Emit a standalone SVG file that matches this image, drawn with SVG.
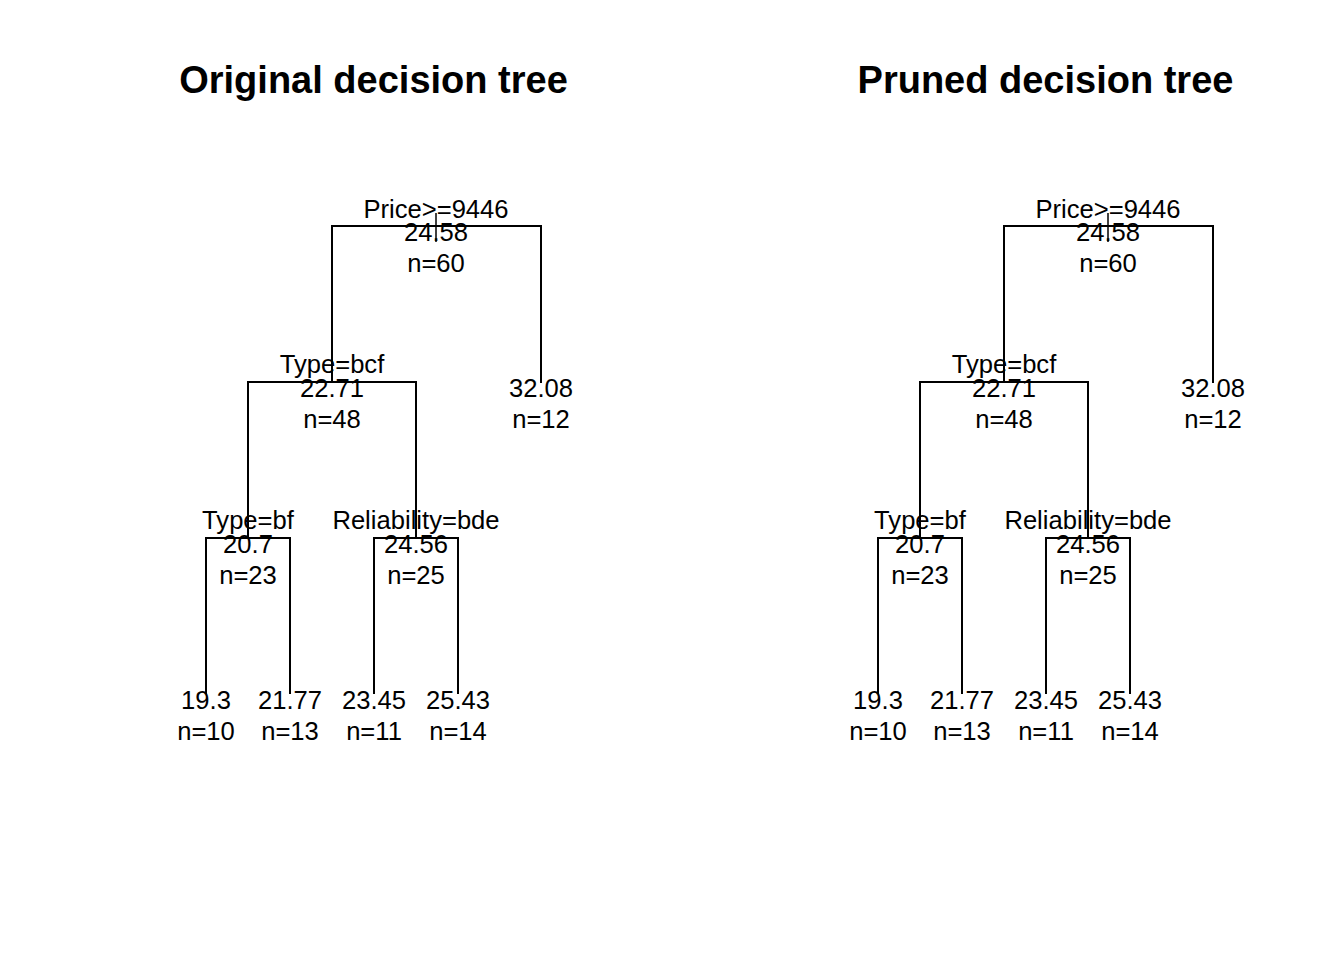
<svg xmlns="http://www.w3.org/2000/svg" width="1344" height="960" viewBox="0 0 1344 960">
<style>
.t{font-family:"Liberation Sans",Arial,sans-serif;font-size:25.6px;fill:#000;text-anchor:middle}
.h{font-family:"Liberation Sans",Arial,sans-serif;font-size:38px;font-weight:bold;fill:#000;text-anchor:middle}
.e{fill:none;stroke:#000;stroke-width:2}
.s{fill:none;stroke:#000;stroke-width:1.5}
</style>
<defs>
<g id="tree">
<g id="edges">
<path class="e" d="M332,382V226H541V383"/>
<path class="e" d="M248,538V382H416V538"/>
<path class="e" d="M206,694V538H290V694"/>
<path class="e" d="M374,694V538H458V694"/>
<path class="s" d="M436,213V242"/>
</g>
<g id="n-root"><text class="t" x="436" y="218">Price&gt;=9446</text><text class="t" x="436" y="241">24.58</text><text class="t" x="436" y="272">n=60</text></g>
<g id="n-bcf"><text class="t" x="332" y="373">Type=bcf</text><text class="t" x="332" y="397">22.71</text><text class="t" x="332" y="428">n=48</text></g>
<g id="n-3208"><text class="t" x="541" y="397">32.08</text><text class="t" x="541" y="428">n=12</text></g>
<g id="n-bf"><text class="t" x="248" y="529">Type=bf</text><text class="t" x="248" y="553">20.7</text><text class="t" x="248" y="584">n=23</text></g>
<g id="n-rel"><text class="t" x="416" y="529">Reliability=bde</text><text class="t" x="416" y="553">24.56</text><text class="t" x="416" y="584">n=25</text></g>
<g id="n-193"><text class="t" x="206" y="709">19.3</text><text class="t" x="206" y="740">n=10</text></g>
<g id="n-2177"><text class="t" x="290" y="709">21.77</text><text class="t" x="290" y="740">n=13</text></g>
<g id="n-2345"><text class="t" x="374" y="709">23.45</text><text class="t" x="374" y="740">n=11</text></g>
<g id="n-2543"><text class="t" x="458" y="709">25.43</text><text class="t" x="458" y="740">n=14</text></g>
</g>
</defs>
<rect width="1344" height="960" fill="#fff"/>
<g id="original">
<text class="h" x="373.5" y="93">Original decision tree</text>
<use href="#tree"/>
</g>
<g id="pruned">
<text class="h" x="1045.5" y="93">Pruned decision tree</text>
<use href="#tree" x="672"/>
</g>
</svg>
